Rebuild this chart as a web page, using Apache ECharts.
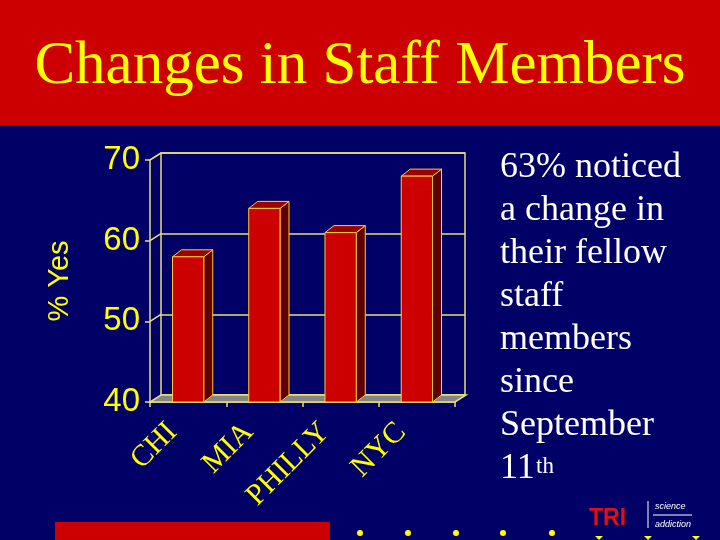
<!DOCTYPE html>
<html>
<head>
<meta charset="utf-8">
<script src="https://cdn.jsdelivr.net/npm/echarts@6/dist/echarts.min.js"></script>
<style>
html,body{margin:0;padding:0;background:#000066;}
#chart{width:720px;height:540px;}
</style>
</head>
<body>
<div id="chart"></div>
<script>
// ---- data ----
const categories = ['CHI', 'MIA', 'PHILLY', 'NYC'];
const values = [58, 64, 61, 68];
const yTicks = [40, 50, 60, 70];
const titleText = 'Changes in Staff Members';
const noteLines = ['63% noticed', 'a change in', 'their fellow', 'staff', 'members', 'since', 'September'];
const noteLast = '11';
const noteSup = 'th';

// ---- styling ----
const NAVY = '#000066';
const RED = '#cc0000';
const YELLOW = '#ffff00';
const LINE = '#e6e07a';
const EDGE = '#ffcc33';
const WX = 11, WY = -7;   // wall depth
const BX = 9, BY = -7;    // bar depth
const yMin = yTicks[0], yMax = yTicks[yTicks.length - 1], yStep = yTicks[1] - yTicks[0];

const chart = echarts.init(document.getElementById('chart'));

function frameItem(params, api) {
  const v = api.value(1);
  const bw = api.size([1, 0])[0];
  const p = api.coord([0, v]);
  const xl = p[0] - bw / 2;
  const children = [];
  if (v === yMin) {
    const q = api.coord([categories.length - 1, v]);
    const xr = q[0] + bw / 2;
    children.push({
      type: 'polygon',
      shape: { points: [[xl, p[1]], [xr, p[1]], [xr + WX, p[1] + WY], [xl + WX, p[1] + WY]] },
      style: { fill: '#858585', stroke: LINE, lineWidth: 1.5 }
    });
  } else {
    children.push({
      type: 'line',
      shape: { x1: xl, y1: p[1], x2: xl + WX, y2: p[1] + WY },
      style: { stroke: LINE, lineWidth: 1.5 }
    });
  }
  return { type: 'group', children: children };
}

function barItem(params, api) {
  const i = api.value(0), v = api.value(1);
  const top = api.coord([i, v]);
  const base = api.coord([i, yMin]);
  const w = api.size([1, 0])[0] * 0.41;
  const xl = top[0] - w / 2, xr = top[0] + w / 2;
  const t = top[1], b = base[1];
  return {
    type: 'group',
    children: [
      { type: 'polygon', shape: { points: [[xr, t], [xr + BX, t + BY], [xr + BX, b + BY], [xr, b]] },
        style: { fill: '#5e0000', stroke: EDGE, lineWidth: 1 } },
      { type: 'polygon', shape: { points: [[xl, t], [xl + BX, t + BY], [xr + BX, t + BY], [xr, t]] },
        style: { fill: '#9a0000', stroke: EDGE, lineWidth: 1 } },
      { type: 'rect', shape: { x: xl, y: t, width: w, height: b - t },
        style: { fill: RED, stroke: EDGE, lineWidth: 1 } }
    ]
  };
}

const dots = [360, 408, 456, 503, 552].map(x => ({
  type: 'circle', shape: { cx: x, cy: 533, r: 3 }, style: { fill: YELLOW }, z: 1
}));
const tris = [599, 648, 696].map(x => ({
  type: 'polygon', shape: { points: [[x - 4, 536], [x + 4, 536], [x, 540]] }, style: { fill: YELLOW }, z: 1
}));

const option = {
  backgroundColor: NAVY,
  animation: false,
  title: {
    text: titleText,
    left: 'center',
    top: 31,
    textStyle: { fontFamily: 'Liberation Serif', fontSize: 61, fontWeight: 'normal', color: YELLOW }
  },
  graphic: [
    { type: 'rect', shape: { x: 0, y: 0, width: 720, height: 125 }, style: { fill: RED }, z: 0 },
    { type: 'rect', shape: { x: 55, y: 522, width: 275, height: 18 }, style: { fill: RED }, z: 0 },
    {
      type: 'text', left: 500, top: 146, z: 1,
      style: { text: noteLines.join('\n'), fill: '#ffffff', font: '36px "Liberation Serif"', lineHeight: 43 }
    },
    {
      type: 'text', left: 500, top: 447, z: 1,
      style: { text: noteLast, fill: '#ffffff', font: '36px "Liberation Serif"', lineHeight: 43 }
    },
    {
      type: 'text', left: 536, top: 455, z: 1,
      style: { text: noteSup, fill: '#ffffff', font: '23px "Liberation Serif"' }
    },
    {
      type: 'text', left: 589, top: 507, z: 1,
      style: { text: 'TRI', fill: '#e01010', font: 'bold 23px "Liberation Sans"' }
    },
    { type: 'line', shape: { x1: 648, y1: 501, x2: 648, y2: 528 }, style: { stroke: '#ffffff', lineWidth: 1 }, z: 1 },
    { type: 'line', shape: { x1: 653, y1: 515, x2: 692, y2: 515 }, style: { stroke: '#ffffff', lineWidth: 1 }, z: 1 },
    {
      type: 'text', left: 655, top: 502, z: 1,
      style: { text: 'science', fill: '#ffffff', font: 'italic 9px "Liberation Sans"' }
    },
    {
      type: 'text', left: 655, top: 520, z: 1,
      style: { text: 'addiction', fill: '#ffffff', font: 'italic 9px "Liberation Sans"' }
    }
  ].concat(dots, tris),
  grid: [
    { left: 150, top: 160, width: 305, height: 242, show: false },
    { left: 161, top: 153, width: 304, height: 242, show: true, borderColor: LINE, borderWidth: 1.5, backgroundColor: 'transparent' }
  ],
  xAxis: [
    {
      type: 'category', gridIndex: 0, data: categories,
      axisLine: { show: true, lineStyle: { color: LINE, width: 1.5 } },
      axisTick: { show: true, length: 5, lineStyle: { color: LINE, width: 1.5 } },
      axisLabel: {
        rotate: 45, margin: 10, color: YELLOW, padding: [0, 22, 0, 0],
        fontFamily: 'Liberation Serif', fontSize: 30
      }
    },
    { type: 'category', gridIndex: 1, data: categories, show: false }
  ],
  yAxis: [
    {
      type: 'value', gridIndex: 0, min: yMin, max: yMax, interval: yStep,
      name: '% Yes', nameLocation: 'middle', nameRotate: 90, nameGap: 76,
      nameTextStyle: { color: YELLOW, fontFamily: 'Liberation Sans', fontSize: 29 },
      axisLine: { show: true, lineStyle: { color: LINE, width: 1.5 } },
      axisTick: { show: true, length: 5, lineStyle: { color: LINE, width: 1.5 } },
      axisLabel: { color: YELLOW, fontFamily: 'Liberation Sans', fontSize: 33, margin: 10 },
      splitLine: { show: false }
    },
    {
      type: 'value', gridIndex: 1, min: yMin, max: yMax, interval: yStep,
      axisLine: { show: false }, axisTick: { show: false }, axisLabel: { show: false },
      splitLine: { show: true, lineStyle: { color: LINE, width: 1.5 } }
    }
  ],
  series: [
    {
      type: 'custom', xAxisIndex: 0, yAxisIndex: 0, clip: false, silent: true,
      renderItem: frameItem,
      data: yTicks.map(v => [0, v])
    },
    {
      type: 'custom', xAxisIndex: 0, yAxisIndex: 0, clip: false,
      renderItem: barItem,
      data: values.map((v, i) => [i, v])
    }
  ]
};
chart.setOption(option);
</script>
</body>
</html>
